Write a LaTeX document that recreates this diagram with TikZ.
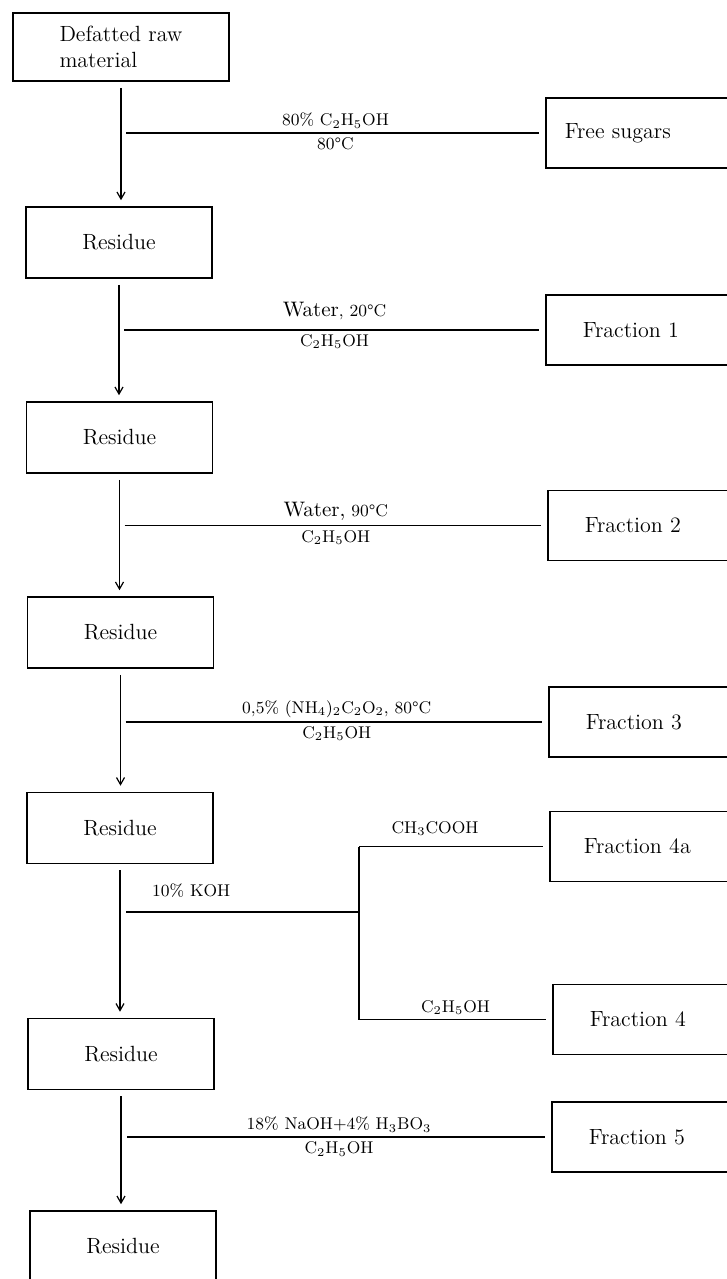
\documentclass[tikz,border=0pt]{standalone}
\usetikzlibrary{arrows.meta}

\begin{document}
\begin{tikzpicture}[x=0.5pt, y=-0.5pt, line width=0.6pt,
    mainbox/.style={draw, line width=0.8pt, minimum width=93pt, minimum height=35.5pt,
      font=\fontsize{11}{13}\selectfont},
    fracbox/.style={draw, line width=0.8pt, anchor=west, minimum height=35pt,
      inner xsep=18.5pt, text width=85pt, align=left, font=\fontsize{11}{13}\selectfont},
    chem/.style={font=\fontsize{8.5}{10}\selectfont, inner sep=2pt},
    flow/.style={-{Straight Barb[length=3.5pt,width=4pt]}, shorten <=3pt, shorten >=3pt}]
  \useasboundingbox (0,0) rectangle (727,1279);
  \clip (0,0) rectangle (727,1279);

  % raw material and residues
  \node[mainbox, minimum width=108pt, minimum height=34pt, align=left] (raw) at (121,47) {Defatted raw\\material};
  \node[mainbox] (res1) at (119,242.5) {Residue};
  \node[mainbox] (res2) at (119.5,437.5) {Residue};
  \node[mainbox] (res3) at (120.5,632.5) {Residue};
  \node[mainbox] (res4) at (120,828) {Residue};
  \node[mainbox] (res5) at (121,1054) {Residue};
  \node[mainbox] (res6) at (123,1246.5) {Residue};

  % fractions
  \node[fracbox, inner xsep=9.5pt] (sug) at (545,133) {Free sugars};
  \node[fracbox] (fr1) at (545,330) {Fraction 1};
  \node[fracbox] (fr2) at (547,525.5) {Fraction 2};
  \node[fracbox] (fr3) at (548,722) {Fraction 3};
  \node[fracbox, inner xsep=17pt] (fr4a) at (549,846.5) {Fraction 4a};
  \node[fracbox] (fr4) at (552,1019.5) {Fraction 4};
  \node[fracbox] (fr5) at (551,1137) {Fraction 5};

  % main column
  \foreach \a/\b in {raw/res1, res1/res2, res2/res3, res3/res4, res4/res5, res5/res6}
    \draw[flow] (\a.south) -- (\a.south |- \b.north);

  % extraction steps
  \draw[shorten >=3pt] ([xshift=2.5pt]raw.south |- sug.west) -- (sug.west)
    node[chem, midway, above] {80\% C\textsubscript{2}H\textsubscript{5}OH}
    node[chem, midway, below] {80\textdegree C};
  \draw[shorten >=3pt] ([xshift=2.5pt]res1.south |- fr1.west) -- (fr1.west)
    node[chem, midway, above=3pt] {{\fontsize{10.5}{12}\selectfont Water}, 20\textdegree C}
    node[chem, midway, below] {C\textsubscript{2}H\textsubscript{5}OH};
  \draw[shorten >=3pt] ([xshift=2.5pt]res2.south |- fr2.west) -- (fr2.west)
    node[chem, midway, above] {{\fontsize{10.5}{12}\selectfont Water,} 90\textdegree C}
    node[chem, midway, below] {C\textsubscript{2}H\textsubscript{5}OH};
  \draw[shorten >=3pt] ([xshift=2.5pt]res3.south |- fr3.west) -- (fr3.west)
    node[chem, midway, above] {0,5\% (NH\textsubscript{4})\textsubscript{2}C\textsubscript{2}O\textsubscript{2}, 80\textdegree C}
    node[chem, midway, below] {C\textsubscript{2}H\textsubscript{5}OH};

  % alkali step, split in two
  \coordinate (split) at (359,912);
  \draw ([xshift=3pt]res4.south |- split) -- (split)
    node[chem, pos=0.28, above=5pt] {10\% KOH};
  \draw (split |- fr4a.west) -- (split |- fr4.west);
  \draw[shorten >=3pt] (split |- fr4a.west) -- (fr4a.west)
    node[chem, pos=0.4, above=3pt] {CH\textsubscript{3}COOH};
  \draw[shorten >=3pt] (split |- fr4.west) -- (fr4.west)
    node[chem, midway, above] {C\textsubscript{2}H\textsubscript{5}OH};

  \draw[shorten >=3pt] ([xshift=3pt]res5.south |- fr5.west) -- (fr5.west)
    node[chem, midway, above] {18\% NaOH+4\% H\textsubscript{3}BO\textsubscript{3}}
    node[chem, midway, below] {C\textsubscript{2}H\textsubscript{5}OH};
\end{tikzpicture}
\end{document}
